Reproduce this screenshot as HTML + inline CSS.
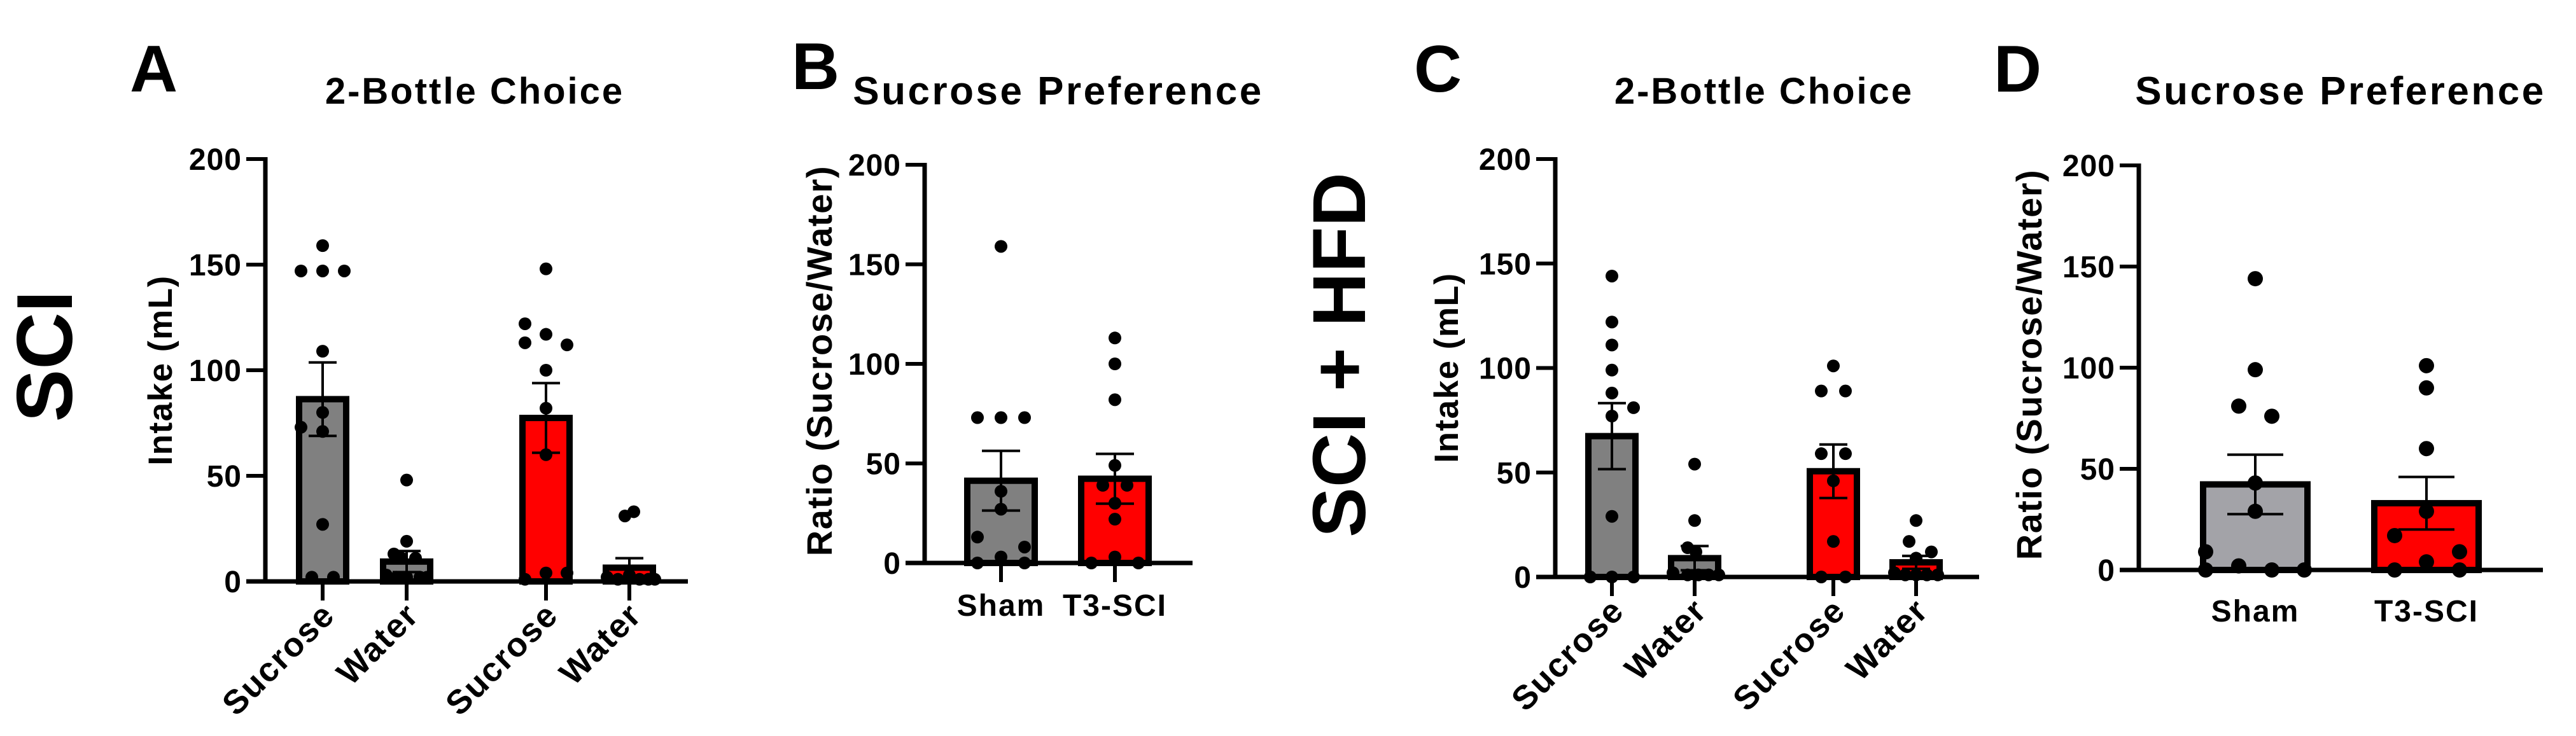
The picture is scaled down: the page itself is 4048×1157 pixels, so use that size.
<!DOCTYPE html>
<html><head><meta charset="utf-8">
<style>
html,body{margin:0;padding:0;background:#fff;}
svg{display:block;font-family:"Liberation Sans",Arial,sans-serif;font-weight:bold;}
</style></head>
<body>
<svg id="fig" width="4048" height="1157" viewBox="0 0 4048 1157" xmlns="http://www.w3.org/2000/svg">
<text x="204" y="144" font-size="104">A</text>
<text x="746" y="163" font-size="58" letter-spacing="3" text-anchor="middle">2-Bottle Choice</text>
<text transform="translate(113,560) rotate(-90)" font-size="124" text-anchor="middle">SCI</text>
<text transform="translate(270,582) rotate(-90)" font-size="53" letter-spacing="1.5" text-anchor="middle">Intake (mL)</text>

<text x="1244" y="140" font-size="104">B</text>
<text x="1663" y="164" font-size="62" letter-spacing="3.5" text-anchor="middle">Sucrose Preference</text>
<text transform="translate(1307,567) rotate(-90)" font-size="56" letter-spacing="1.5" text-anchor="middle">Ratio (Sucrose/Water)</text>

<text transform="translate(2145,558) rotate(-90)" font-size="118" text-anchor="middle">SCI + HFD</text>
<text x="2222" y="144" font-size="104">C</text>
<text x="2772" y="163" font-size="58" letter-spacing="3" text-anchor="middle">2-Bottle Choice</text>
<text transform="translate(2291,578) rotate(-90)" font-size="53" letter-spacing="1.5" text-anchor="middle">Intake (mL)</text>

<text x="3133" y="144" font-size="104">D</text>
<text x="3678" y="164" font-size="62" letter-spacing="3.5" text-anchor="middle">Sucrose Preference</text>
<text transform="translate(3208,573) rotate(-90)" font-size="56" letter-spacing="1.5" text-anchor="middle">Ratio (Sucrose/Water)</text>
</svg>
<script>
// ---- data ----
const yTicks = [0, 50, 100, 150, 200];
const catA = ["Sucrose", "Water", "Sucrose", "Water"];
const meanA = [86.3, 9.4, 77.4, 6.5];
const semA = [17.4, 5.0, 16.5, 4.5];
const ptsA0 = [159, 147, 147, 147, 109, 80, 73, 71, 27, 2, 2];
const ptsA1 = [48, 19, 13, 11, 11, 3, 2, 2, 2, 2];
const ptsA2 = [148, 122, 113, 117, 112, 100, 82, 60, 4, 4, 1];
const ptsA3 = [33, 31, 3, 2, 1, 1, 1, 1];

const catB = ["Sham", "T3-SCI"];
const meanB = [41.3, 42.3];
const semB = [15.0, 12.5];
const ptsB0 = [159, 73, 73, 73, 36, 27, 13, 8, 3, 0, 0];
const ptsB1 = [113, 100, 82, 49, 39, 39, 30, 22, 3, 0, 0];

const catC = ["Sucrose", "Water", "Sucrose", "Water"];
const meanC = [67.4, 9.0, 50.6, 7.0];
const semC = [15.8, 5.8, 12.8, 3.1];
const ptsC0 = [144, 122, 111, 99, 88, 81, 77, 29, 0, 0, 0];
const ptsC1 = [54, 27, 14, 12, 2, 1, 1, 1, 1];
const ptsC2 = [101, 89, 89, 59, 59, 46, 17, 0, 0];
const ptsC3 = [27, 17, 12, 9, 2, 1, 1, 1, 1];

const catD = ["Sham", "T3-SCI"];
const meanD = [42.3, 33.0];
const semD = [14.7, 13.0];
const ptsD0 = [144, 99, 81, 76, 43, 29, 9, 2, 0, 0, 0];
const ptsD1 = [101, 90, 60, 29, 17, 9, 4, 0, 0];

// ---- layout (not data) ----
const jitA = [[0,-34,0,34,0,0,-34,0,0,-17,17],[0,0,-20,14,-8,-32,0,21,-16,32],[0,-33,-33,0,33,0,0,0,0,33,-33],[7,-7,0,-35,30,-18,16,40]];
const jitB = [[0,-37,0,37,0,0,-37,37,0,-37,37],[0,0,0,0,-19,19,0,0,0,-37,37]];
const jitC = [[0,0,0,0,0,34,0,0,-34,0,34],[0,0,-11,2,-34,-11,6,22,38],[0,-19,19,-19,19,0,0,-19,19],[0,-11,24,0,-34,-17,0,17,34]];
const jitD = [[0,0,-26,26,0,0,-78,-26,-78,26,77],[0,0,0,0,-50,52,0,-50,52]];

const NS = "http://www.w3.org/2000/svg";
const svg = document.getElementById("fig");
function mk(tag, attrs, parent) {
  const e = document.createElementNS(NS, tag);
  for (const k in attrs) e.setAttribute(k, attrs[k]);
  (parent || svg).appendChild(e);
  return e;
}
const GRAY = "#808080", RED = "#ff0000", LGRAY = "#a3a3a8";

function panel(p) {
  const g = mk("g", {});
  
  
  const y = v => p.y0 - (v / 200) * (p.y0 - p.yTop);
  p.means.forEach((m, i) => {
    const c = p.centers[i];
    const sw = 10;
    const r = mk("rect", {x: c - p.barW/2 + sw/2, y: y(m), width: p.barW - sw, height: Math.max(0, p.y0 - y(m)), fill: p.colors[i], stroke: "#000", "stroke-width": sw}, g);
    
    
  });
  p.pts.forEach((arr, i) => {
    arr.forEach((v, j) => {
      const d = mk("circle", {cx: p.centers[i] + (p.jit[i][j] || 0), cy: y(v), r: p.dotR, fill: "#000"}, g);
      
      
    });
  });
  p.means.forEach((m, i) => {
    const c = p.centers[i];
    const e = mk("path", {d: `M${c},${y(m - p.sems[i])}V${y(m + p.sems[i])}M${c - p.cap},${y(m + p.sems[i])}H${c + p.cap}M${c - p.cap},${y(m - p.sems[i])}H${c + p.cap}`, stroke: "#000", "stroke-width": 4, fill: "none"}, g);
    
    
  });
  const ax = mk("path", {d: `M${p.axisX},${p.yTop - 3}V${p.y0}`, stroke: "#000", "stroke-width": 7, fill: "none"}, g);
  
  
  const bx = mk("path", {d: `M${p.axisX - 30},${p.y0}H${p.xEnd}`, stroke: "#000", "stroke-width": 7, fill: "none"}, g);
  
  
  yTicks.forEach(t => {
    const tk = mk("path", {d: `M${p.axisX - 30},${y(t)}H${p.axisX}`, stroke: "#000", "stroke-width": 6}, g);
    
    
    const tl = mk("text", {x: p.axisX - 37, y: y(t) + 17, "font-size": 48, "letter-spacing": 1, "text-anchor": "end"}, g);
    tl.textContent = t;
    
    
  });
  p.cats.forEach((c, i) => {
    const cx = p.centers[i];
    if (p.below) {
      const tk = mk("path", {d: `M${cx},${p.y0}V${p.y0 + 30}`, stroke: "#000", "stroke-width": 6}, g);
      
      
    }
    let tl;
    if (p.rot) {
      tl = mk("text", {transform: `translate(${cx + 22},${p.y0 + 56}) rotate(-45)`, "font-size": 53, "letter-spacing": 2, "text-anchor": "end"}, g);
    } else {
      tl = mk("text", {x: cx, y: p.labelY, "font-size": 48, "letter-spacing": 2, "text-anchor": "middle"}, g);
    }
    tl.textContent = c;
    
    
  });
}

panel({id:"a", axisX:417, y0:914, yTop:250, xEnd:1081, centers:[507,639,858,989], barW:84, colors:[GRAY,GRAY,RED,RED],
  means:meanA, sems:semA, pts:[ptsA0,ptsA1,ptsA2,ptsA3], jit:jitA, cats:catA, dotR:10, cap:22, below:true, rot:true});
panel({id:"b", axisX:1453, y0:885, yTop:259, xEnd:1874, centers:[1573,1752], barW:116, colors:[GRAY,RED],
  means:meanB, sems:semB, pts:[ptsB0,ptsB1], jit:jitB, cats:catB, dotR:10, cap:30, below:true, rot:false, labelY:968});
panel({id:"c", axisX:2444, y0:907, yTop:250, xEnd:3110, centers:[2533,2663,2881,3011], barW:84, colors:[GRAY,GRAY,RED,RED],
  means:meanC, sems:semC, pts:[ptsC0,ptsC1,ptsC2,ptsC3], jit:jitC, cats:catC, dotR:10, cap:22, below:true, rot:true});
panel({id:"d", axisX:3361, y0:896, yTop:260, xEnd:3996, centers:[3544,3813], barW:174, colors:[LGRAY,RED],
  means:meanD, sems:semD, pts:[ptsD0,ptsD1], jit:jitD, cats:catD, dotR:12, cap:44, below:false, rot:false, labelY:977});
</script>
</body></html>
